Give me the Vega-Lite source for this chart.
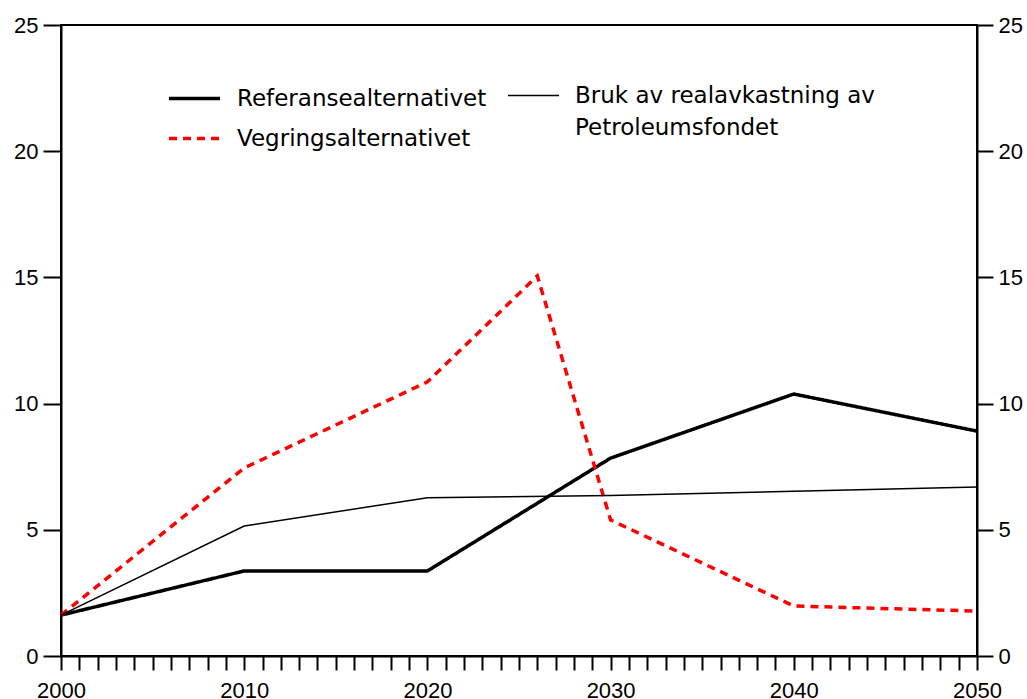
{
  "$schema": "https://vega.github.io/schema/vega-lite/v6.json",
  "width": 916,
  "height": 631,
  "autosize": "none",
  "padding": {"left": 61, "top": 25, "right": 50, "bottom": 43},
  "background": "white",
  "config": {
    "view": {"stroke": "black", "strokeWidth": 2},
    "axis": {
      "grid": false,
      "domainColor": "black",
      "domainWidth": 2,
      "tickColor": "black",
      "tickWidth": 2,
      "labelColor": "black",
      "labelFont": "Liberation Sans",
      "labelFontSize": 22,
      "labelFontWeight": "normal",
      "title": null
    },
    "legend": {
      "labelFont": "DejaVu Sans",
      "labelFontSize": 23,
      "labelColor": "black",
      "labelLimit": 600,
      "padding": 0,
      "symbolType": "stroke",
      "symbolSize": 2600,
      "labelOffset": 15,
      "title": null
    }
  },
  "data": {
    "values": [
      {"series": "Referansealternativet", "year": 2000, "value": 1.62},
      {"series": "Referansealternativet", "year": 2010, "value": 3.37},
      {"series": "Referansealternativet", "year": 2020, "value": 3.37},
      {"series": "Referansealternativet", "year": 2030, "value": 7.84},
      {"series": "Referansealternativet", "year": 2040, "value": 10.38},
      {"series": "Referansealternativet", "year": 2050, "value": 8.91},
      {"series": "Vegringsalternativet", "year": 2000, "value": 1.62},
      {"series": "Vegringsalternativet", "year": 2010, "value": 7.45},
      {"series": "Vegringsalternativet", "year": 2020, "value": 10.86},
      {"series": "Vegringsalternativet", "year": 2026, "value": 15.06},
      {"series": "Vegringsalternativet", "year": 2030, "value": 5.39},
      {"series": "Vegringsalternativet", "year": 2040, "value": 1.98},
      {"series": "Vegringsalternativet", "year": 2050, "value": 1.78},
      {"series": "Bruk av realavkastning av Petroleumsfondet", "year": 2000, "value": 1.62},
      {"series": "Bruk av realavkastning av Petroleumsfondet", "year": 2010, "value": 5.15},
      {"series": "Bruk av realavkastning av Petroleumsfondet", "year": 2020, "value": 6.27},
      {"series": "Bruk av realavkastning av Petroleumsfondet", "year": 2030, "value": 6.36},
      {"series": "Bruk av realavkastning av Petroleumsfondet", "year": 2040, "value": 6.53},
      {"series": "Bruk av realavkastning av Petroleumsfondet", "year": 2050, "value": 6.7}
    ]
  },
  "encoding": {
    "x": {
      "field": "year",
      "type": "quantitative",
      "scale": {"domain": [2000, 2050], "nice": false, "zero": false},
      "axis": {
        "orient": "bottom",
        "values": [2000,2001,2002,2003,2004,2005,2006,2007,2008,2009,2010,2011,2012,2013,2014,2015,2016,2017,2018,2019,2020,2021,2022,2023,2024,2025,2026,2027,2028,2029,2030,2031,2032,2033,2034,2035,2036,2037,2038,2039,2040,2041,2042,2043,2044,2045,2046,2047,2048,2049,2050],
        "format": "d",
        "labelExpr": "datum.value % 10 == 0 ? datum.label : ''",
        "labelOverlap": false,
        "labelFlush": false,
        "tickSize": 14,
        "labelPadding": 10
      }
    }
  },
  "layer": [
    {
      "layer": [
        {
          "transform": [{"filter": "datum.series != 'Bruk av realavkastning av Petroleumsfondet'"}],
          "mark": {"type": "line", "strokeJoin": "miter", "strokeCap": "butt"},
          "encoding": {
            "color": {
              "field": "series",
              "type": "nominal",
              "scale": {"domain": ["Referansealternativet", "Vegringsalternativet"], "range": ["#000000", "#ff0000"]},
              "legend": {"orient": "none", "legendX": 106, "legendY": 46, "direction": "vertical", "rowPadding": -17, "symbolStrokeWidth": 3.5}
            },
            "strokeDash": {
              "field": "series",
              "type": "nominal",
              "scale": {"domain": ["Referansealternativet", "Vegringsalternativet"], "range": [[1, 0], [8, 6]]}
            },
            "strokeWidth": {"value": 3.5}
          }
        },
        {
          "transform": [{"filter": "datum.series == 'Bruk av realavkastning av Petroleumsfondet'"}],
          "mark": {"type": "line", "strokeWidth": 1.5},
          "encoding": {
            "color": {
              "field": "series",
              "type": "nominal",
              "scale": {"domain": ["Bruk av realavkastning av Petroleumsfondet"], "range": ["#000000"]},
              "legend": {
                "orient": "none",
                "legendX": 446,
                "legendY": 44,
                "symbolStrokeWidth": 1.5,
                "labelExpr": "['Bruk av realavkastning av', 'Petroleumsfondet']",
                "encode": {"labels": {"update": {"lineHeight": {"value": 32}}}}
              }
            }
          }
        }
      ],
      "encoding": {
        "y": {
          "field": "value",
          "type": "quantitative",
          "scale": {"domain": [0, 25], "nice": false},
          "axis": {
            "orient": "left",
            "values": [0, 5, 10, 15, 20, 25],
            "tickSize": 18,
            "labelPadding": 5,
            "labelFlush": false,
            "labelBaseline": "middle"
          }
        }
      },
      "resolve": {"scale": {"color": "independent", "strokeDash": "independent"}, "legend": {"color": "independent"}}
    },
    {
      "data": {"values": [{"year": 2000, "value": 0}, {"year": 2050, "value": 0}]},
      "mark": {"type": "line", "color": "black", "strokeWidth": 2},
      "encoding": {
        "y": {
          "field": "value",
          "type": "quantitative",
          "scale": {"domain": [0, 25], "nice": false},
          "axis": {
            "orient": "right",
            "values": [0, 5, 10, 15, 20, 25],
            "tickSize": 16,
            "labelPadding": 5,
            "labelFlush": false,
            "labelBaseline": "middle"
          }
        }
      }
    }
  ],
  "resolve": {"scale": {"y": "independent", "color": "independent", "strokeDash": "independent"}, "axis": {"y": "independent"}, "legend": {"color": "independent"}}
}
